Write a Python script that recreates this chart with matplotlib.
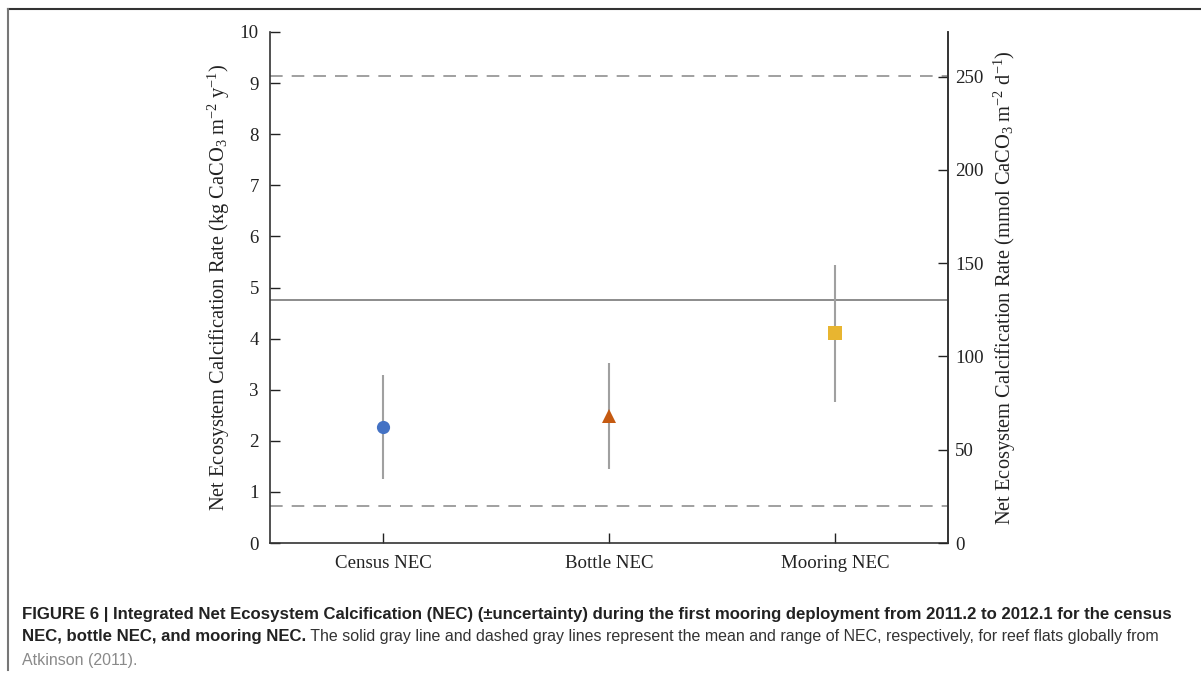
import matplotlib
matplotlib.use('Agg')
import matplotlib.pyplot as plt

# data (kg CaCO3 m-2 y-1)
categories = ['Census NEC', 'Bottle NEC', 'Mooring NEC']
nec_mean = [2.27, 2.48, 4.10]
nec_err = [1.02, 1.04, 1.35]
marker_styles = ['o', '^', 's']
marker_colors = ['#4472c4', '#c55a11', '#e8b530']

# Atkinson (2011) global reef flat values
atkinson_mean = 4.75
atkinson_range = [0.72, 9.13]

# kg CaCO3 m-2 y-1 -> mmol CaCO3 m-2 d-1
KG_TO_MMOL = 10000 / 365.0

plt.rcParams['mathtext.fontset'] = 'custom'
plt.rcParams['mathtext.rm'] = 'Liberation Serif'
plt.rcParams['mathtext.it'] = 'Liberation Serif:italic'

fig = plt.figure(figsize=(12.01, 6.75), dpi=100)
ax = fig.add_axes([270 / 1201, 1 - 543 / 675, 678 / 1201, 511 / 675])

x = list(range(1, len(categories) + 1))

# reference lines
ax.axhline(atkinson_mean, color='#8c8c8c', lw=1.4, zorder=1)
for v in atkinson_range:
    ax.axhline(v, color='#999999', lw=1.3, dashes=(7, 5), zorder=1)

for xi, m, e, mk, c in zip(x, nec_mean, nec_err, marker_styles, marker_colors):
    ax.errorbar(xi, m, yerr=e, fmt='none', ecolor='#a0a0a0', elinewidth=1.5, capsize=0, zorder=2)
    ms = 9.5 if mk == 'o' else 10.5
    ax.plot(xi, m, marker=mk, color=c, markersize=ms, markeredgewidth=0, linestyle='none', zorder=3)

ax.set_xlim(0.5, 3.5)
ax.set_ylim(0, 10)
ax.set_yticks(range(0, 11))
ax.set_xticks(x)
ax.set_xticklabels(categories)

serif = 'Liberation Serif'
tick_size = 13.6
for lab in ax.get_xticklabels() + ax.get_yticklabels():
    lab.set_family(serif)
    lab.set_fontsize(tick_size)
ax.tick_params(axis='y', direction='in', length=7, width=1, pad=8, colors='#222222')
ax.tick_params(axis='x', direction='in', length=7, width=1, pad=9, colors='#222222')
ax.spines['top'].set_visible(False)
for s in ['left', 'bottom', 'right']:
    ax.spines[s].set_linewidth(1.2)
    ax.spines[s].set_color('#333333')

label_size = 14.7
ax.set_ylabel('Net Ecosystem Calcification Rate (kg CaCO$_3$ m$^{-2}$ y$^{-1}$)',
              family=serif, fontsize=label_size, color='#222222')
ax.yaxis.set_label_coords((232 - 270) / 678, 0.5)

ax2 = ax.twinx()
ax2.set_ylim(0, 10 * KG_TO_MMOL)
ax2.set_yticks(range(0, 251, 50))
for lab in ax2.get_yticklabels():
    lab.set_family(serif)
    lab.set_fontsize(tick_size)
ax2.tick_params(axis='y', direction='in', length=7, width=1, pad=5, colors='#222222')
for s in ['top', 'left', 'bottom']:
    ax2.spines[s].set_visible(False)
ax2.spines['right'].set_linewidth(1.2)
ax2.spines['right'].set_color('#333333')
ax2.set_ylabel('Net Ecosystem Calcification Rate (mmol CaCO$_3$ m$^{-2}$ d$^{-1}$)',
               family=serif, fontsize=label_size, color='#222222')
ax2.yaxis.set_label_coords((992 - 270) / 678, 0.5)

# frame around figure panel
fig.add_artist(plt.Line2D([8 / 1201, 1], [1 - 9 / 675, 1 - 9 / 675], color='#333333', lw=1.5,
                          transform=fig.transFigure))
fig.add_artist(plt.Line2D([8 / 1201, 8 / 1201], [1 - 9 / 675, 1 - 670 / 675], color='#777777', lw=1.5,
                          transform=fig.transFigure))

# caption
cap_font = 'Liberation Sans'
x0 = 22 / 1201
fig.text(x0, 1 - 614 / 675,
         'FIGURE 6 | Integrated Net Ecosystem Calcification (NEC) (\u00b1uncertainty) during the first mooring '
         'deployment from 2011.2 to 2012.1 for the census',
         family=cap_font, fontsize=12.07, weight='bold', color='#222222', va='center')
t_bold = fig.text(x0, 1 - 637 / 675, 'NEC, bottle NEC, and mooring NEC.',
                  family=cap_font, fontsize=12.07, weight='bold', color='#222222', va='center')
fig.canvas.draw()
bb = t_bold.get_window_extent()
fig.text(bb.x1 / fig.bbox.width, 1 - 637 / 675,
         ' The solid gray line and dashed gray lines represent the mean and range of NEC, respectively, '
         'for reef flats globally from',
         family=cap_font, fontsize=11.5, color='#333333', va='center')
fig.text(x0, 1 - 660 / 675, 'Atkinson (2011).', family=cap_font, fontsize=11.5,
         color='#8a8a8a', va='center')

fig.savefig('out.png', dpi=100)
